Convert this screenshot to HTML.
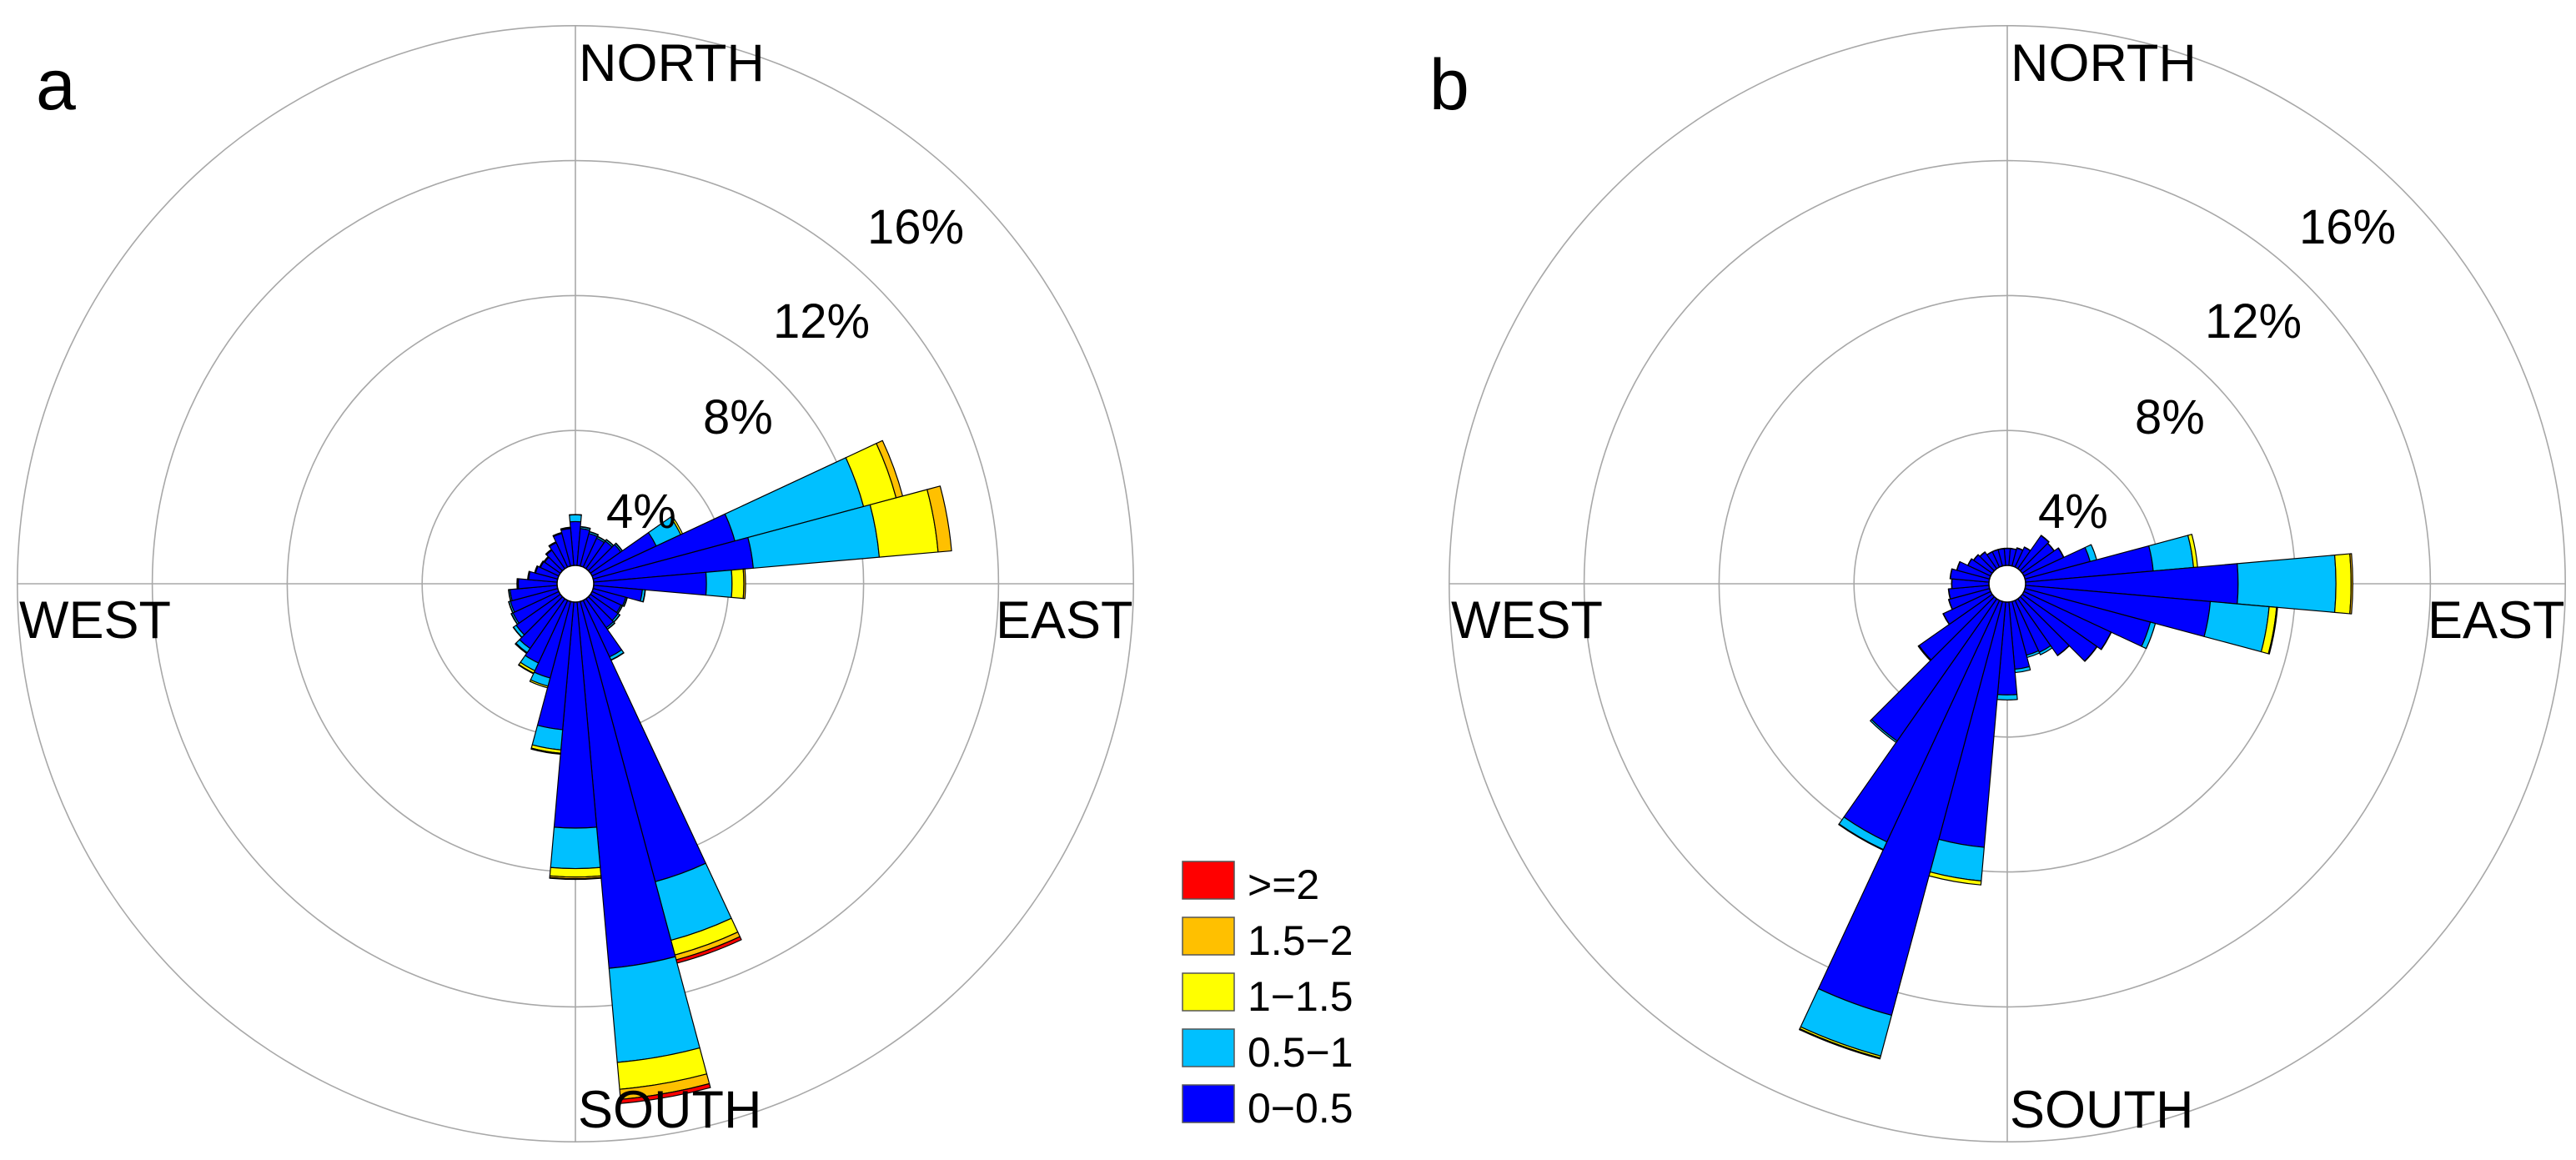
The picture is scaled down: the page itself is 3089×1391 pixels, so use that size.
<!DOCTYPE html>
<html><head><meta charset="utf-8"><style>
html,body{margin:0;padding:0;background:#fff;}
svg{display:block;}
text{font-family:"Liberation Sans",sans-serif;fill:#000;}
</style></head><body>
<svg id="chart" width="3089" height="1391" viewBox="0 0 3089 1391" xmlns="http://www.w3.org/2000/svg">
<g id="panelA"></g>
<g id="panelB"></g>
<g id="legend"></g>
</svg>
<script>
// direction centers (degrees clockwise from north)
const directions = [0,10,20,30,40,50,60,70,80,90,100,110,120,130,140,150,160,170,180,190,200,210,220,230,240,250,260,270,280,290,300,310,320,330,340,350];
const ringTicks = [4,8,12,16];
const ringLabels = ["4%","8%","12%","16%"];
const speedClasses = ["0\u22120.5","0.5\u22121","1\u22121.5","1.5\u22122",">=2"];
const classColors = ["#0000ff","#00c0ff","#ffff00","#ffc000","#ff0000"];

// Panel a frequencies (%) per speed class
const a_s0 = [1.3,1.1,1.0,0.95,1.0,1.1,2.1,4.35,4.75,3.34,1.45,1.0,0.95,1.0,1.05,1.85,8.6,10.9,6.7,3.8,2.35,2.05,1.8,1.6,1.5,1.45,1.4,1.15,0.85,0.68,0.6,0.57,0.67,0.8,1.0,1.1];
const a_s1 = [0.2,0.05,0.05,0.05,0.05,0.05,0.8,3.95,3.75,0.76,0.08,0.04,0.04,0.06,0.05,0.1,1.8,2.8,1.2,0.6,0.25,0.25,0.15,0.1,0.05,0.05,0.04,0.03,0.02,0.02,0.02,0.02,0.02,0.02,0.02,0.03];
const a_s2 = [0.01,0.01,0.01,0.01,0.01,0.01,0.06,1.0,1.75,0.35,0.01,0.01,0.01,0.01,0.01,0.01,0.45,0.8,0.25,0.1,0.05,0.08,0.03,0.01,0.01,0.01,0.01,0.01,0.01,0.01,0.01,0.01,0.01,0.01,0.01,0.01];
const a_s3 = [0,0,0,0,0,0,0,0.2,0.4,0.05,0,0,0,0,0,0,0.15,0.3,0.05,0.03,0,0.02,0,0,0,0,0,0,0,0,0,0,0,0,0,0];
const a_s4 = [0,0,0,0,0,0,0,0,0,0,0,0,0,0,0,0,0.1,0.12,0.02,0,0,0,0,0,0,0,0,0,0,0,0,0,0,0,0,0];

// Panel b frequencies (%) per speed class
const b_s0 = [0.5,0.5,0.55,0.65,1.2,1.15,1.3,2.0,3.8,6.3,5.5,3.85,2.85,2.7,2.05,1.7,1.65,2.0,2.75,7.3,12.7,7.9,5.15,2.65,1.55,1.25,1.2,1.1,1.15,1.0,0.74,0.67,0.6,0.5,0.5,0.5];
const b_s1 = [0.01,0.01,0.01,0.01,0.01,0.01,0.01,0.2,1.2,2.9,1.75,0.15,0.01,0.01,0.01,0.08,0.07,0.1,0.15,1.0,1.25,0.25,0.05,0.03,0.01,0.01,0.01,0.01,0.01,0.01,0.01,0.01,0.01,0.01,0.01,0.01];
const b_s2 = [0,0,0,0,0,0,0,0,0.12,0.45,0.22,0,0,0,0,0,0,0,0,0.12,0.06,0.02,0,0,0,0,0,0,0,0,0,0,0,0,0,0];
const b_s3 = [0,0,0,0,0,0,0,0,0,0.05,0.03,0,0,0,0,0,0,0,0,0,0.03,0,0,0,0,0,0,0,0,0,0,0,0,0,0,0];
const b_s4 = [0,0,0,0,0,0,0,0,0,0,0,0,0,0,0,0,0,0,0,0,0,0,0,0,0,0,0,0,0,0,0,0,0,0,0,0];

const NS = "http://www.w3.org/2000/svg";
const R0 = 22, K = 40.45, SECTOR = 10;
function rScale(v){ return R0 + K*v; }
function pt(cx,cy,r,deg){ const a=deg*Math.PI/180; return [cx+r*Math.sin(a), cy-r*Math.cos(a)]; }
function mk(tag, attrs){ const e=document.createElementNS(NS,tag); for(const k in attrs) e.setAttribute(k,attrs[k]); return e; }

function drawRose(g, cx, cy, series, letter, letterX){
  const rOut = rScale(16);
  ringTicks.forEach((t,i)=>{
    const c = mk("circle",{cx:cx,cy:cy,r:rScale(t),fill:"none",stroke:"#a8a8a8","stroke-width":1.6});
    
    
    g.appendChild(c);
  });
  const h = mk("line",{x1:cx-rOut,y1:cy,x2:cx+rOut,y2:cy,stroke:"#a8a8a8","stroke-width":1.6});
  
  
  g.appendChild(h);
  const v = mk("line",{x1:cx,y1:cy-rOut,x2:cx,y2:cy+rOut,stroke:"#a8a8a8","stroke-width":1.6});
  
  
  g.appendChild(v);

  directions.forEach((d,i)=>{
    let cum = 0;
    series.forEach((s,k)=>{
      const val = s[i];
      if(val<=0) return;
      const r1 = rScale(cum), r2 = rScale(cum+val);
      cum += val;
      const a1=d-SECTOR/2, a2=d+SECTOR/2;
      const p1=pt(cx,cy,r1,a1), p2=pt(cx,cy,r2,a1), p3=pt(cx,cy,r2,a2), p4=pt(cx,cy,r1,a2);
      const path = "M"+p1+" L"+p2+" A"+r2+","+r2+" 0 0 1 "+p3+" L"+p4+" A"+r1+","+r1+" 0 0 0 "+p1+" Z";
      const el = mk("path",{d:path,fill:classColors[k],stroke:"#000","stroke-width":1.2,"stroke-linejoin":"round"});
      
      
      g.appendChild(el);
    });
  });
  const hole = mk("circle",{cx:cx,cy:cy,r:R0,fill:"#fff",stroke:"#000","stroke-width":1.5});
  
  
  g.appendChild(hole);

  const labelPos = [[37,633],[153,520],[237,405],[350,292]];
  ringLabels.forEach((t,i)=>{
    const tx = mk("text",{x:cx+labelPos[i][0],y:labelPos[i][1],"font-size":58});
    tx.textContent = t;
    
    
    g.appendChild(tx);
  });
  const dirs = [["NORTH",cx+4,97],["WEST",cx-667,765],["EAST",cx+504,765],["SOUTH",cx+3,1352]];
  dirs.forEach(dd=>{
    const tx = mk("text",{x:dd[1],y:dd[2],"font-size":63});
    tx.textContent = dd[0];
    
    
    g.appendChild(tx);
  });
  const lt = mk("text",{x:letterX,y:131,"font-size":86});
  lt.textContent = letter;
  
  
  g.appendChild(lt);
}

drawRose(document.getElementById("panelA"), 690, 700, [a_s0,a_s1,a_s2,a_s3,a_s4], "a", 43);
drawRose(document.getElementById("panelB"), 2407, 700, [b_s0,b_s1,b_s2,b_s3,b_s4], "b", 1714);

const lg = document.getElementById("legend");
for(let j=0;j<5;j++){
  const k = 4-j;
  const y = 1033 + j*67;
  const box = mk("rect",{x:1418,y:y,width:62,height:45,fill:classColors[k],stroke:"#555","stroke-width":1.5});
  
  
  lg.appendChild(box);
  const tx = mk("text",{x:1496,y:y+45,"font-size":50});
  tx.textContent = speedClasses[k];
  
  
  lg.appendChild(tx);
}
</script>
</body></html>
